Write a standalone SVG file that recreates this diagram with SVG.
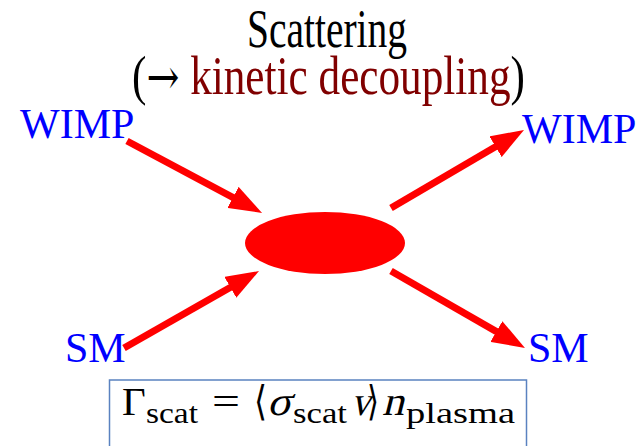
<svg xmlns="http://www.w3.org/2000/svg" width="636" height="446" viewBox="0 0 636 446">
<style>
.lbl{font-family:"Liberation Serif","Times New Roman",serif;font-size:42px;fill:#0000ff}
.title{font-family:"Liberation Serif","Times New Roman",serif;font-size:55px;fill:#000}
.math{font-family:"Liberation Serif","DejaVu Serif",serif;fill:#000}
.conn{stroke:#ff0000;stroke-width:7;fill:none;marker-end:url(#ah)}
</style>
<defs>
<marker id="ah" markerUnits="userSpaceOnUse" markerWidth="33" markerHeight="24" refX="20" refY="12" orient="auto">
<path d="M0,0 L33,12 L0,24 z" fill="#ff0000"/>
</marker>
</defs>
<rect width="636" height="446" fill="#fff"/>
<g id="title">
<text class="title" x="247" y="47" textLength="160" lengthAdjust="spacingAndGlyphs">Scattering</text>
<text class="title" x="132" y="94" textLength="393" lengthAdjust="spacingAndGlyphs">(<tspan style="font-family:'DejaVu Serif',serif" font-size="50">→</tspan> <tspan fill="#800000">kinetic decoupling</tspan>)</text>
</g>
<g id="connectors">
<line class="conn" x1="127" y1="141" x2="250.6" y2="206.8"/>
<line class="conn" x1="124" y1="348" x2="247.7" y2="277.5"/>
<line class="conn" x1="391" y1="208" x2="512.8" y2="136.6"/>
<line class="conn" x1="391" y1="271" x2="513.7" y2="341.5"/>
</g>
<g id="vertex"><ellipse cx="325" cy="243" rx="80" ry="31" fill="#ff0000"/></g>
<g id="wimp-in"><text class="lbl" x="20" y="138">WIMP</text></g>
<g id="sm-in"><text class="lbl" x="65" y="362">SM</text></g>
<g id="wimp-out"><text class="lbl" x="522" y="143">WIMP</text></g>
<g id="sm-out"><text class="lbl" x="528" y="362">SM</text></g>
<g id="formula">
<rect x="109.5" y="380" width="417" height="80" fill="none" stroke="#5a82c0" stroke-width="1.5"/>
<text class="math" x="122" y="415" font-size="41">Γ</text>
<text class="math" x="146" y="423" font-size="29" textLength="52" lengthAdjust="spacingAndGlyphs">scat</text>
<text class="math" x="212" y="415" font-size="41" textLength="28" lengthAdjust="spacingAndGlyphs">=</text>
<text class="math" x="254" y="415" font-size="41" style="font-family:'DejaVu Serif',serif" textLength="13" lengthAdjust="spacingAndGlyphs">⟨</text>
<text class="math" transform="translate(267,415) skewX(-14)" x="0" y="0" font-size="41" textLength="24" lengthAdjust="spacingAndGlyphs">σ</text>
<text class="math" x="293" y="423" font-size="29" textLength="54" lengthAdjust="spacingAndGlyphs">scat</text>
<text class="math" transform="translate(351,415) skewX(-14)" x="0" y="0" font-size="41" textLength="19" lengthAdjust="spacingAndGlyphs">v</text>
<text class="math" x="367" y="415" font-size="41" style="font-family:'DejaVu Serif',serif" textLength="12" lengthAdjust="spacingAndGlyphs">⟩</text>
<text class="math" transform="translate(382,415) skewX(-14)" x="0" y="0" font-size="41" textLength="22" lengthAdjust="spacingAndGlyphs">n</text>
<text class="math" x="406" y="423" font-size="29" textLength="109" lengthAdjust="spacingAndGlyphs">plasma</text>
</g>
</svg>
